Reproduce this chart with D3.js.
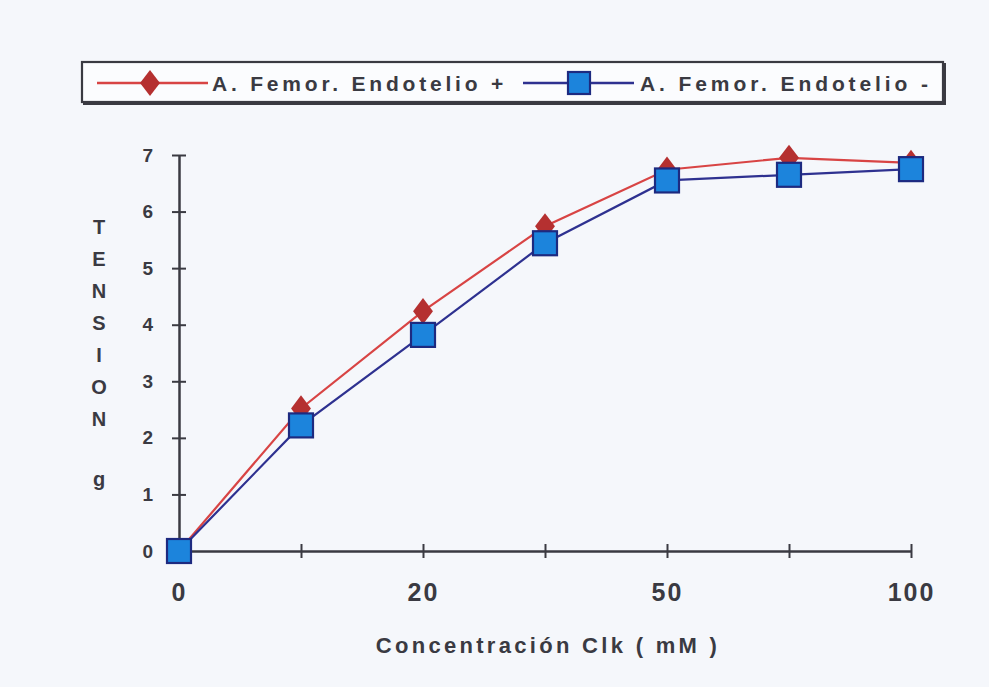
<!DOCTYPE html>
<html>
<head>
<meta charset="utf-8">
<script src="https://cdn.jsdelivr.net/npm/d3@7"></script>
<style>
  html, body { margin: 0; padding: 0; background: #f5f7fb; }
  svg { display: block; }
  text { font-family: "Liberation Sans", Arial, sans-serif; font-weight: bold; fill: #3a3a42; }
</style>
</head>
<body>
<svg id="chart" width="989" height="687"></svg>
<script>
const categories = ["0", "10", "20", "30", "50", "75", "100"];
const tickLabels = ["0", "", "20", "", "50", "", "100"];
const seriesNames = ["A. Femor. Endotelio +", "A. Femor. Endotelio -"];
const endoPlus = [0, 2.52, 4.24, 5.74, 6.74, 6.95, 6.86];
const endoMinus = [0, 2.22, 3.82, 5.44, 6.55, 6.65, 6.75];
const yTicks = [0, 1, 2, 3, 4, 5, 6, 7];
const yTitleLetters = ["T", "E", "N", "S", "I", "O", "N"];

(function () {
const svg = d3.select("#chart");
const W = 989, H = 687;
const ink = "#3a3a42";
svg.append("rect").attr("width", W).attr("height", H).attr("fill", "#f5f7fb");

const mLeft = 179, mRight = 911, mTop = 155, mBottom = 551;
const x = d3.scalePoint().domain(categories).range([mLeft, mRight]);
const y = d3.scaleLinear().domain([0, 7]).range([mBottom, mTop]);

// Y axis
const yAxis = svg.append("g").attr("transform", `translate(${mLeft},0)`)
  .call(d3.axisLeft(y).tickValues(yTicks).tickSize(0).tickPadding(26).tickFormat(d3.format("d")));
yAxis.select(".domain").attr("stroke", ink).attr("stroke-width", 2.5);
yAxis.selectAll("text").style("font-size", "19px").style("font-family", "Liberation Sans, Arial, sans-serif").style("font-weight", "bold").attr("fill", ink);
yAxis.selectAll(".tick").append("line").attr("x1", -7).attr("x2", 7).attr("stroke", ink).attr("stroke-width", 2);

// X axis
const xAxis = svg.append("g").attr("transform", `translate(0,${mBottom})`)
  .call(d3.axisBottom(x).tickSize(0).tickPadding(32).tickFormat((d, i) => tickLabels[i]));
xAxis.select(".domain").attr("stroke", ink).attr("stroke-width", 2.5);
xAxis.selectAll("text").style("font-size", "25px").style("font-family", "Liberation Sans, Arial, sans-serif").style("font-weight", "bold").attr("fill", ink).attr("letter-spacing", "2px");
xAxis.selectAll(".tick").append("line").attr("y1", -7).attr("y2", 7).attr("stroke", ink).attr("stroke-width", 2);

// Y title (stacked letters)
svg.selectAll("text.ytl").data(yTitleLetters).enter().append("text")
  .attr("class", "ytl").attr("x", 99).attr("y", (d, i) => 234 + i * 32)
  .attr("text-anchor", "middle").style("font-size", "20px").text(d => d);
svg.append("text").attr("x", 99).attr("y", 486).attr("text-anchor", "middle").style("font-size", "20px").text("g");

// X title
svg.append("text").attr("x", 548).attr("y", 653).attr("text-anchor", "middle")
  .style("font-size", "22px").attr("letter-spacing", "3.3px").text("Concentración Clk ( mM )");

const line = d3.line().x((d, i) => x(categories[i])).y(d => y(d));
const redLine = "#d84444", redMark = "#b53030", blueLine = "#2e3190", blueFill = "#1c84dc", blueStroke = "#1d2a80";

svg.append("path").datum(endoPlus).attr("d", line).attr("fill", "none").attr("stroke", redLine).attr("stroke-width", 2.2);
svg.append("path").datum(endoMinus).attr("d", line).attr("fill", "none").attr("stroke", blueLine).attr("stroke-width", 2.2);

const diamond = d3.symbol().type(d3.symbolDiamond).size(220);
svg.selectAll("path.dia").data(endoPlus).enter().append("path").attr("class", "dia")
  .attr("d", diamond).attr("transform", (d, i) => `translate(${x(categories[i])},${y(d)}) scale(1.25,0.95)`)
  .attr("fill", redMark);

const sq = 24;
svg.selectAll("rect.sq").data(endoMinus).enter().append("rect").attr("class", "sq")
  .attr("x", (d, i) => x(categories[i]) - sq / 2).attr("y", d => y(d) - sq / 2)
  .attr("width", sq).attr("height", sq).attr("fill", blueFill).attr("stroke", blueStroke).attr("stroke-width", 2.2);

// Legend
const lg = svg.append("g");
lg.append("rect").attr("x", 83).attr("y", 63).attr("width", 863).attr("height", 42).attr("fill", ink);
lg.append("rect").attr("x", 82).attr("y", 62).attr("width", 861).attr("height", 40).attr("fill", "#fbfcfe").attr("stroke", ink).attr("stroke-width", 2.2);
const ly = 83;
lg.append("line").attr("x1", 97).attr("x2", 208).attr("y1", ly).attr("y2", ly).attr("stroke", redLine).attr("stroke-width", 2.5);
lg.append("path").attr("d", diamond).attr("transform", `translate(150,${ly}) scale(1.25,0.95)`).attr("fill", redMark);
lg.append("text").attr("x", 212).attr("y", ly + 8).style("font-size", "21px").attr("letter-spacing", "3.8px").text(seriesNames[0]);
lg.append("line").attr("x1", 523).attr("x2", 634).attr("y1", ly).attr("y2", ly).attr("stroke", blueLine).attr("stroke-width", 2.5);
lg.append("rect").attr("x", 579 - 11).attr("y", ly - 11).attr("width", 22).attr("height", 22).attr("fill", blueFill).attr("stroke", blueStroke).attr("stroke-width", 2.2);
lg.append("text").attr("x", 640).attr("y", ly + 8).style("font-size", "21px").attr("letter-spacing", "3.9px").text(seriesNames[1]);
})();
</script>
</body>
</html>
